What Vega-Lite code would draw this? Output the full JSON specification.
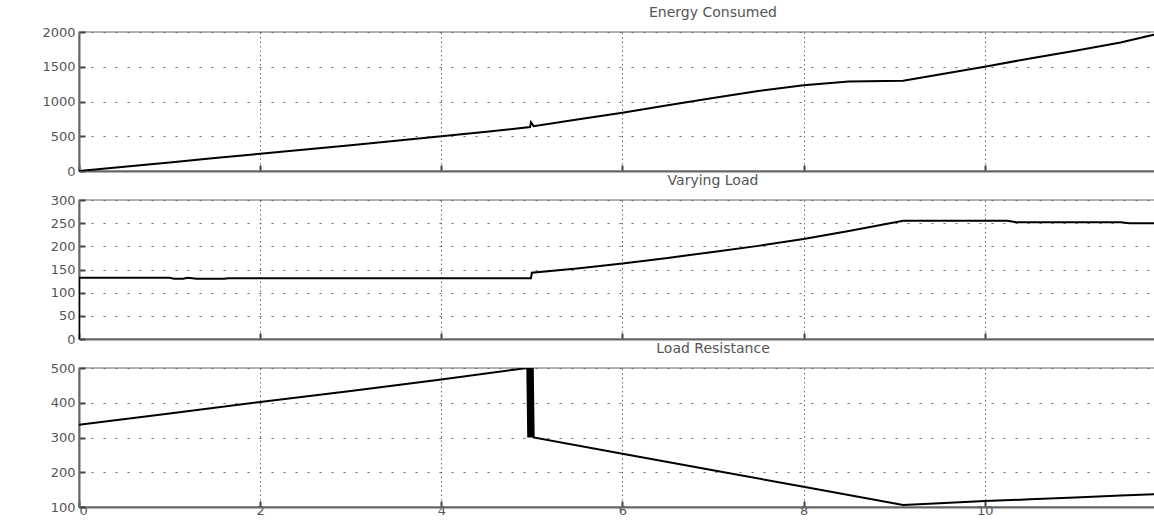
{
  "$schema": "https://vega.github.io/schema/vega-lite/v6.json",
  "background": "white",
  "padding": {"left": 41, "top": 5, "right": 0, "bottom": 0},
  "bounds": "flush",
  "spacing": 29,
  "datasets": {
    "energy": [
      {"t": 0, "v": 0}, {"t": 0.5, "v": 62}, {"t": 1, "v": 124}, {"t": 1.5, "v": 186}, {"t": 2, "v": 248},
      {"t": 2.5, "v": 310}, {"t": 3, "v": 372}, {"t": 3.5, "v": 436}, {"t": 4, "v": 500}, {"t": 4.5, "v": 565},
      {"t": 4.98, "v": 632}, {"t": 4.99, "v": 700}, {"t": 5.02, "v": 645}, {"t": 5.5, "v": 740}, {"t": 6, "v": 838},
      {"t": 6.5, "v": 945}, {"t": 7, "v": 1050}, {"t": 7.5, "v": 1150}, {"t": 8, "v": 1235}, {"t": 8.5, "v": 1288},
      {"t": 9.1, "v": 1298}, {"t": 9.5, "v": 1390}, {"t": 10, "v": 1500}, {"t": 10.5, "v": 1620}, {"t": 11, "v": 1730},
      {"t": 11.5, "v": 1850}, {"t": 11.83, "v": 1950}, {"t": 12, "v": 1990}
    ],
    "load": [
      {"t": 0, "v": 0}, {"t": 0.001, "v": 132}, {"t": 1.0, "v": 132}, {"t": 1.05, "v": 130}, {"t": 1.15, "v": 130},
      {"t": 1.2, "v": 132}, {"t": 1.3, "v": 130}, {"t": 1.6, "v": 130}, {"t": 1.65, "v": 131}, {"t": 4.99, "v": 131},
      {"t": 5.0, "v": 143}, {"t": 5.5, "v": 152}, {"t": 6, "v": 163}, {"t": 6.5, "v": 175}, {"t": 7, "v": 188},
      {"t": 7.5, "v": 201}, {"t": 8, "v": 216}, {"t": 8.5, "v": 233}, {"t": 9.1, "v": 255}, {"t": 10.25, "v": 255},
      {"t": 10.35, "v": 252}, {"t": 11.5, "v": 252}, {"t": 11.6, "v": 250}, {"t": 12, "v": 250}
    ],
    "resist": [
      {"t": 0, "v": 337}, {"t": 1, "v": 369}, {"t": 2, "v": 402}, {"t": 3, "v": 434}, {"t": 4, "v": 467},
      {"t": 4.95, "v": 500}, {"t": 4.96, "v": 300}, {"t": 4.97, "v": 500}, {"t": 4.98, "v": 300}, {"t": 4.99, "v": 500},
      {"t": 5.0, "v": 300}, {"t": 5.01, "v": 500}, {"t": 5.02, "v": 300},
      {"t": 6, "v": 253}, {"t": 7, "v": 206}, {"t": 8, "v": 158}, {"t": 9.1, "v": 106}, {"t": 9.5, "v": 111},
      {"t": 10, "v": 117}, {"t": 10.5, "v": 122}, {"t": 11, "v": 127}, {"t": 11.5, "v": 133}, {"t": 12, "v": 138}
    ]
  },
  "config": {
    "view": {"stroke": "#999", "strokeWidth": 1.5},
    "font": "DejaVu Sans",
    "axis": {
      "grid": true, "gridColor": "#666", "gridWidth": 1,
      "labelFont": "DejaVu Sans", "labelFontSize": 13, "labelColor": "#555",
      "tickColor": "#444", "tickSize": -6, "tickWidth": 2,
      "domainColor": "#666", "domainWidth": 2, "labelPadding": 10
    },
    "axisX": {"gridDash": [1.5, 3]},
    "axisY": {"gridDash": [2, 10], "format": "d"},
    "title": {"fontSize": 14, "fontWeight": "normal", "color": "#555", "offset": 6, "anchor": "middle", "font": "DejaVu Sans"},
    "line": {"color": "black", "strokeWidth": 2}
  },
  "vconcat": [
    {
      "title": "Energy Consumed",
      "width": 1268, "height": 139,
      "data": {"name": "energy"},
      "mark": {"type": "line", "clip": true},
      "encoding": {
        "x": {"field": "t", "type": "quantitative", "scale": {"domain": [0, 14], "nice": false},
              "axis": {"values": [0, 2, 4, 6, 8, 10], "labels": false, "title": null}},
        "y": {"field": "v", "type": "quantitative", "scale": {"domain": [0, 2000], "nice": false},
              "axis": {"values": [0, 500, 1000, 1500, 2000], "title": null}}
      }
    },
    {
      "title": "Varying Load",
      "width": 1268, "height": 139,
      "data": {"name": "load"},
      "mark": {"type": "line", "clip": true},
      "encoding": {
        "x": {"field": "t", "type": "quantitative", "scale": {"domain": [0, 14], "nice": false},
              "axis": {"values": [0, 2, 4, 6, 8, 10], "labels": false, "title": null}},
        "y": {"field": "v", "type": "quantitative", "scale": {"domain": [0, 300], "nice": false},
              "axis": {"values": [0, 50, 100, 150, 200, 250, 300], "title": null}}
      }
    },
    {
      "title": "Load Resistance",
      "width": 1268, "height": 139,
      "data": {"name": "resist"},
      "mark": {"type": "line", "clip": true},
      "encoding": {
        "x": {"field": "t", "type": "quantitative", "scale": {"domain": [0, 14], "nice": false},
              "axis": {"values": [0, 2, 4, 6, 8, 10], "title": null, "labelPadding": 3}},
        "y": {"field": "v", "type": "quantitative", "scale": {"domain": [100, 500], "nice": false},
              "axis": {"values": [100, 200, 300, 400, 500], "title": null}}
      }
    }
  ]
}
